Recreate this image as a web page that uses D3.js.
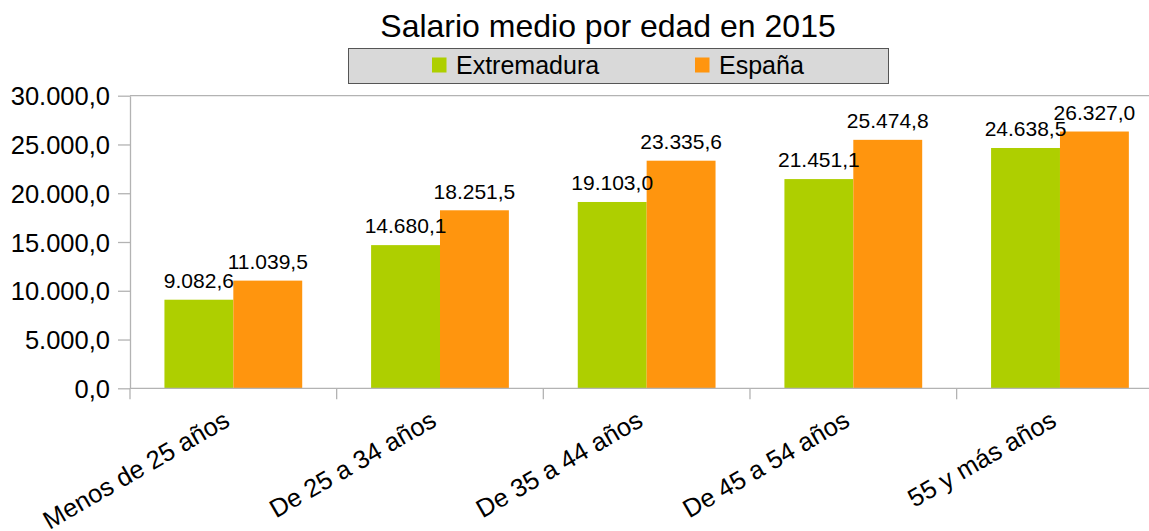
<!DOCTYPE html>
<html>
<head>
<meta charset="utf-8">
<script src="https://cdn.jsdelivr.net/npm/d3@7"></script>
<style>
  body { margin: 0; background: #fff; }
  text { font-family: "Liberation Sans", Arial, sans-serif; fill: #000; }
</style>
</head>
<body>
<div class="bar-chart-container"></div>
<script>
// data
const categories = ['Menos de 25 años', 'De 25 a 34 años', 'De 35 a 44 años', 'De 45 a 54 años', '55 y más años'];
const seriesNames = ['Extremadura', 'España'];
const extremadura = [9082.6, 14680.1, 19103.0, 21451.1, 24638.5];
const espana = [11039.5, 18251.5, 23335.6, 25474.8, 26327.0];
const yTicks = [0, 5000, 10000, 15000, 20000, 25000, 30000];
const colors = ['#aecf00', '#ff950e'];

const es = d3.formatLocale({decimal: ',', thousands: '.', grouping: [3], currency: ['', '€']});
const fmt = es.format(',.1f');

const chartData = categories.map((c, i) => ({
    cat: c,
    values: [
        {series: seriesNames[0], value: extremadura[i]},
        {series: seriesNames[1], value: espana[i]}
    ]
}));

const svg_width = 1149;
const svg_height = 531;
const plot = {left: 130, top: 95.7, right: 1163.3, bottom: 388.3};

const svg = d3.select('.bar-chart-container').append('svg')
    .attr('width', svg_width).attr('height', svg_height);

// scales
const xScale = d3.scaleBand().domain(categories).range([plot.left, plot.right]).paddingInner(0).paddingOuter(0);
const bw = xScale.bandwidth();
const xInner = d3.scaleBand().domain(seriesNames).range([bw / 6, bw * 5 / 6]);
const yScale = d3.scaleLinear().domain([0, 30000]).range([plot.bottom, plot.top]);
const color = d3.scaleOrdinal().domain(seriesNames).range(colors);

// top wall line
svg.append('line')
    .attr('x1', plot.left).attr('x2', plot.right)
    .attr('y1', yScale(30000)).attr('y2', yScale(30000))
    .attr('stroke', '#b3b3b3').attr('stroke-width', 1.3);

// bars
const groups = svg.selectAll('.group').data(chartData).enter().append('g')
    .attr('class', 'group')
    .attr('transform', d => `translate(${xScale(d.cat)},0)`);

groups.selectAll('rect').data(d => d.values).enter().append('rect')
    .attr('x', d => xInner(d.series))
    .attr('y', d => yScale(d.value))
    .attr('width', xInner.bandwidth())
    .attr('height', d => yScale(0) - yScale(d.value))
    .style('fill', d => color(d.series));

groups.selectAll('.val').data(d => d.values).enter().append('text')
    .attr('class', 'val')
    .attr('x', d => xInner(d.series) + xInner.bandwidth() / 2)
    .attr('y', d => yScale(d.value) - 11.7)
    .attr('text-anchor', 'middle')
    .style('font-size', '21px')
    .text(d => fmt(d.value));

// y axis
const yAxis = d3.axisLeft(yScale).tickValues(yTicks).tickFormat(fmt).tickSizeInner(12).tickSizeOuter(0).tickPadding(8);
const yAxisDraw = svg.append('g').attr('transform', `translate(${plot.left},0)`).call(yAxis);
yAxisDraw.select('.domain').attr('stroke', '#b3b3b3').attr('stroke-width', 1.3);
yAxisDraw.selectAll('.tick line').attr('stroke', '#b3b3b3').attr('stroke-width', 1.3);
yAxisDraw.selectAll('text').style('font-size', '25.5px').attr('fill', '#000')
    .attr('dy', '0.36em').style('font-family', '"Liberation Sans", Arial, sans-serif');

// x axis: baseline plus ticks at the group boundaries
const xAxisG = svg.append('g');
xAxisG.append('line')
    .attr('x1', plot.left).attr('x2', plot.right)
    .attr('y1', plot.bottom).attr('y2', plot.bottom)
    .attr('stroke', '#b3b3b3').attr('stroke-width', 1.3);
xAxisG.selectAll('.xtick').data(categories.concat(['end'])).enter().append('line')
    .attr('x1', (d, i) => plot.left + i * bw).attr('x2', (d, i) => plot.left + i * bw)
    .attr('y1', plot.bottom).attr('y2', plot.bottom + 11)
    .attr('stroke', '#b3b3b3').attr('stroke-width', 1.3);
xAxisG.selectAll('.xlabel').data(categories).enter().append('text')
    .attr('text-anchor', 'end')
    .attr('transform', d => `translate(${xScale(d) + bw / 2 - 2},425) rotate(-30)`)
    .style('font-size', '25.5px')
    .text(d => d);

// title
svg.append('text')
    .attr('x', 608).attr('y', 37)
    .attr('text-anchor', 'middle')
    .style('font-size', '32px')
    .text('Salario medio por edad en 2015');

// legend
const legend = svg.append('g');
legend.append('rect')
    .attr('x', 348.5).attr('y', 48.5).attr('width', 540).attr('height', 35)
    .attr('fill', '#d9d9d9').attr('stroke', '#555').attr('stroke-width', 1);
const legendX = [432, 695];
const items = legend.selectAll('.item').data(seriesNames).enter().append('g')
    .attr('transform', (d, i) => `translate(${legendX[i]},0)`);
items.append('rect')
    .attr('x', 0).attr('y', 57.5).attr('width', 14.5).attr('height', 15)
    .style('fill', d => color(d));
items.append('text')
    .attr('x', 24).attr('y', 74)
    .style('font-size', '25px')
    .text(d => d);
</script>
</body>
</html>
